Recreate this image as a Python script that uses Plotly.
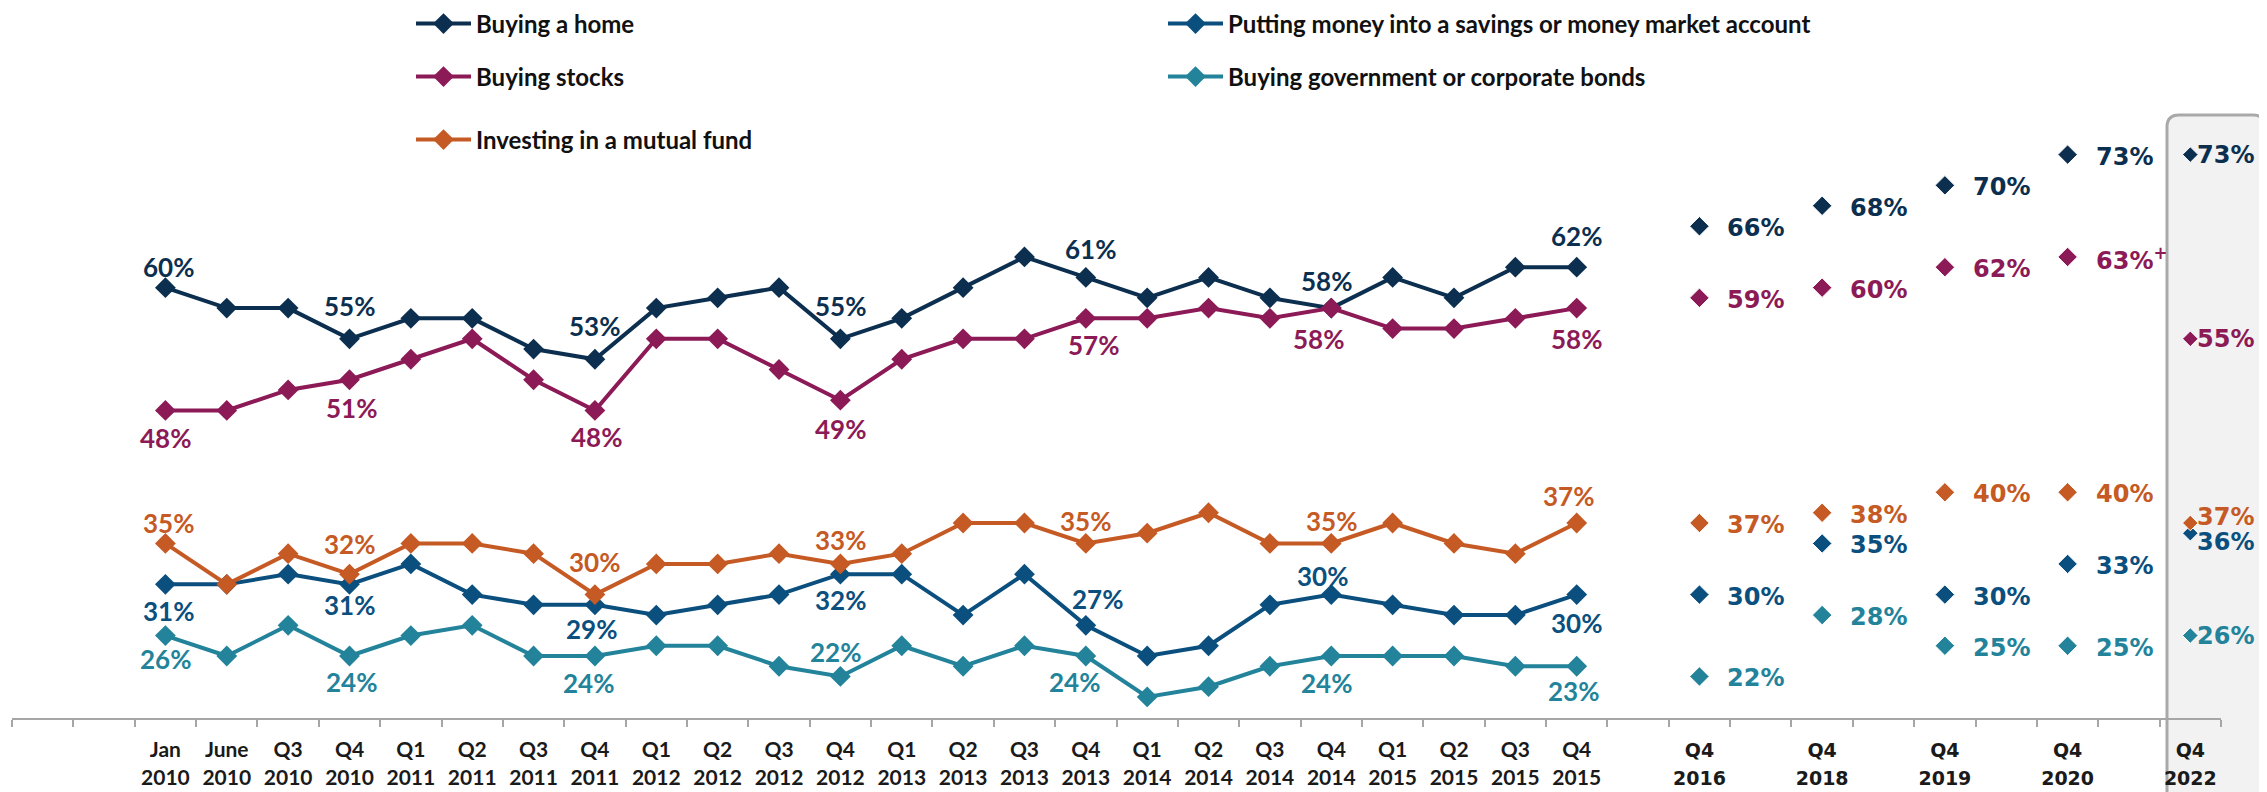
import plotly.graph_objects as go

# ---------------- data ----------------
trend_periods = ["Jan<br>2010", "June<br>2010", "Q3<br>2010", "Q4<br>2010",
                 "Q1<br>2011", "Q2<br>2011", "Q3<br>2011", "Q4<br>2011",
                 "Q1<br>2012", "Q2<br>2012", "Q3<br>2012", "Q4<br>2012",
                 "Q1<br>2013", "Q2<br>2013", "Q3<br>2013", "Q4<br>2013",
                 "Q1<br>2014", "Q2<br>2014", "Q3<br>2014", "Q4<br>2014",
                 "Q1<br>2015", "Q2<br>2015", "Q3<br>2015", "Q4<br>2015"]
later_periods = ["Q4<br>2016", "Q4<br>2018", "Q4<br>2019", "Q4<br>2020", "Q4<br>2022"]

home_trend = [60, 58, 58, 55, 57, 57, 54, 53, 58, 59, 60, 55, 57, 60, 63, 61, 59, 61, 59, 58, 61, 59, 62, 62]
stocks_trend = [48, 48, 50, 51, 53, 55, 51, 48, 55, 55, 52, 49, 53, 55, 55, 57, 57, 58, 57, 58, 56, 56, 57, 58]
fund_trend = [35, 31, 34, 32, 35, 35, 34, 30, 33, 33, 34, 33, 34, 37, 37, 35, 36, 38, 35, 35, 37, 35, 34, 37]
savings_trend = [31, 31, 32, 31, 33, 30, 29, 29, 28, 29, 30, 32, 32, 28, 32, 27, 24, 25, 29, 30, 29, 28, 28, 30]
bonds_trend = [26, 24, 27, 24, 26, 27, 24, 24, 25, 25, 23, 22, 25, 23, 25, 24, 20, 21, 23, 24, 24, 24, 23, 23]

home_later = [66, 68, 70, 73, 73]
stocks_later = [59, 60, 62, 63, 55]
fund_later = [37, 38, 40, 40, 37]
savings_later = [30, 35, 30, 33, 36]
bonds_later = [22, 28, 25, 25, 26]

stocks_notes = ["", "", "", "<sup>+</sup>", ""]
no_notes = ["", "", "", "", ""]

# indices of labelled points in the 2010-2015 trend
label_idx = [0, 3, 7, 11, 15, 19, 23]

# ---------------- styling ----------------
LEFT_FONT = "Lato"
RIGHT_FONT = "DejaVu Sans"
PAGE_OFFSET = 8  # default body margin of the html page

R = 26  # gap from marker to right-hand labels
series = [
    dict(name="Buying a home", color="#0c2f50", trend=home_trend, later=home_later,
         notes=no_notes, legend="legend",
         offs=[(3, 21), (0, 33), (0, 33), (0, 33), (5, 28), (-5, 27), (0, 31)],
         loffs=[(R, -2), (R, -2), (R, -2), (R, -2), (5, 0)]),
    dict(name="Putting money into a savings or money market account", color="#0b4f7e",
         trend=savings_trend, later=savings_later, notes=no_notes, legend="legend",
         offs=[(3, -27), (0, -21), (-3, -24), (0, -26), (12, 26), (-9, 19), (0, -28)],
         loffs=[(R, -2), (R, -2), (R, -2), (R, -2), (5, -9)]),
    dict(name="Buying stocks", color="#8c1a56", trend=stocks_trend, later=stocks_later,
         notes=stocks_notes, legend="legend2",
         offs=[(0, -28), (2, -28), (2, -27), (0, -29), (8, -27), (-13, -31), (0, -31)],
         loffs=[(R, -2), (R, -2), (R, -2), (R, -2), (5, 0)]),
    dict(name="Buying government or corporate bonds", color="#22839a",
         trend=bonds_trend, later=bonds_later, notes=no_notes, legend="legend2",
         offs=[(0, -23), (2, -26), (-6, -27), (-5, 24), (-11, -26), (-5, -27), (-3, -25)],
         loffs=[(R, -2), (R, -2), (R, -2), (R, -2), (5, 0)]),
    dict(name="Investing in a mutual fund", color="#c65a24", trend=fund_trend, later=fund_later,
         notes=no_notes, legend="legend3",
         offs=[(3, 20), (0, 30), (0, 33), (0, 24), (0, 22), (0, 22), (-8, 27)],
         loffs=[(R, -2), (R, -2), (R, -2), (R, -2), (5, 6)]),
]

# axis categories: blank slots separate the later survey points
blanks = [" " * (k + 1) for k in range(7)]
axis_categories = blanks[:2] + trend_periods
for i, p in enumerate(later_periods):
    axis_categories += [blanks[2 + i], p]


def tick_label(c):
    if c.strip() == "":
        return " "
    if c in later_periods:
        a, b = c.split("<br>")
        st = "font-family:'DejaVu Sans';font-size:19px"
        return f"<span style=\"{st}\">{a}</span><br><span style=\"{st}\">{b}</span>"
    return c


tick_text = [tick_label(c) for c in axis_categories]

fig = go.Figure()
annotations = []
for s in series:
    fig.add_trace(go.Scatter(
        x=trend_periods, y=s["trend"], name=s["name"], legend=s["legend"],
        mode="lines+markers", line=dict(color=s["color"], width=4),
        marker=dict(symbol="diamond", size=16, color=s["color"], opacity=1),
        hoverinfo="skip"))
    fig.add_trace(go.Scatter(
        x=later_periods, y=s["later"], name=s["name"], legend=s["legend"],
        mode="markers", showlegend=False,
        marker=dict(symbol="diamond", size=[15, 15, 15, 15, 12], color=s["color"], opacity=1),
        hoverinfo="skip"))
    for idx, (dx, dy) in zip(label_idx, s["offs"]):
        annotations.append(dict(
            x=trend_periods[idx], y=s["trend"][idx], xref="x", yref="y",
            text=f"{s['trend'][idx]}%", showarrow=False, xshift=dx, yshift=dy,
            font=dict(family=LEFT_FONT, size=26, color=s["color"], weight="bold")))
    for p, v, note, (dx, dy) in zip(later_periods, s["later"], s["notes"], s["loffs"]):
        annotations.append(dict(
            x=p, y=v, xref="x", yref="y", text=f"{v}%{note}", showarrow=False,
            xanchor="left", xshift=dx, yshift=dy,
            font=dict(family=RIGHT_FONT, size=24, color=s["color"], weight="bold")))


def rounded_rect(x0, x1, y0, y1, r):
    return (f"M{x0 + r},{y1} L{x1 - r},{y1} Q{x1},{y1} {x1},{y1 - r} "
            f"L{x1},{y0} L{x0},{y0} L{x0},{y1 - r} Q{x0},{y1} {x0 + r},{y1} Z")


W, H = 2267, 792
ITEM_W = 55
legend_common = dict(orientation="h", xref="container", yref="container",
                     x=0.1888 - (ITEM_W - 30) / W, xanchor="left", yanchor="middle",
                     itemwidth=ITEM_W,
                     entrywidth=752 - ITEM_W - 15, entrywidthmode="pixels",
                     bgcolor="rgba(0,0,0,0)",
                     font=dict(family=LEFT_FONT, size=24, color="#111111", weight="bold"))

axis_grey = "#a6a6a6"
fig.update_layout(
    width=W, height=H,
    margin=dict(l=12 - PAGE_OFFSET, r=W - (2221 - PAGE_OFFSET),
                t=83 - PAGE_OFFSET, b=H - (718 - PAGE_OFFSET), autoexpand=False),
    paper_bgcolor="white", plot_bgcolor="rgba(0,0,0,0)",
    showlegend=True,
    legend=dict(legend_common, y=1 - 16 / H),
    legend2=dict(legend_common, y=1 - 69 / H),
    legend3=dict(legend_common, y=1 - 132 / H),
    xaxis=dict(type="category", categoryorder="array", categoryarray=axis_categories,
               range=[-0.5, len(axis_categories) - 0.5],
               tickmode="array", tickvals=axis_categories, ticktext=tick_text,
               tickangle=0, ticklabelstandoff=12,
               ticks="outside", tickson="boundaries", ticklen=7, tickwidth=2,
               tickcolor=axis_grey, showline=True, linecolor=axis_grey, linewidth=2,
               showgrid=False, zeroline=False,
               tickfont=dict(family=LEFT_FONT, size=21, color="#1a1a1a", weight="bold")),
    xaxis2=dict(overlaying="x", anchor="y", type="linear",
                range=[-0.5, len(axis_categories) - 0.5],
                tickmode="array", tickvals=list(range(len(axis_categories))),
                ticks="inside", ticklen=6, tickwidth=2, tickcolor=axis_grey,
                showticklabels=False, showgrid=False, zeroline=False, showline=False),
    yaxis=dict(range=[17.94, 80], visible=False, showgrid=False, zeroline=False),
    annotations=annotations,
    shapes=[dict(type="path", xref="paper", yref="paper",
                 xsizemode="pixel", ysizemode="pixel", xanchor=1, yanchor=0,
                 path=rounded_rect(-54, 44, -90, 603, 12),
                 fillcolor="#f2f2f2", line=dict(color="#a9a9a9", width=3),
                 layer="below")],
)

fig.write_html("out.html")
